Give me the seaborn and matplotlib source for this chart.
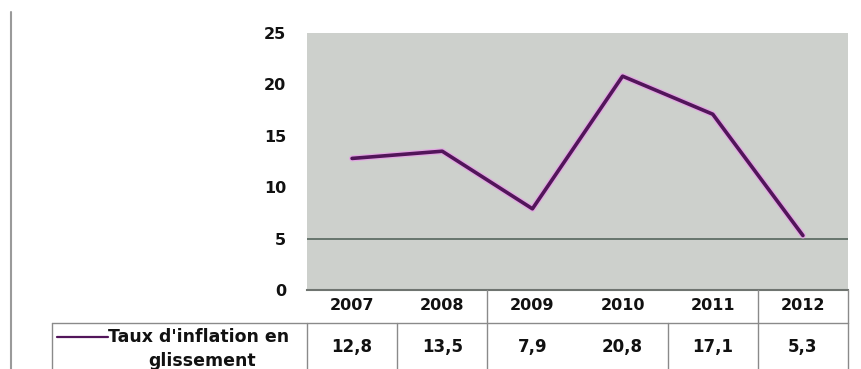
import matplotlib
matplotlib.use("Agg")
import matplotlib.pyplot as plt
import matplotlib.transforms as mtransforms
from matplotlib.lines import Line2D
import seaborn as sns
import pandas as pd

years = ["2007", "2008", "2009", "2010", "2011", "2012"]
inflation = [12.8, 13.5, 7.9, 20.8, 17.1, 5.3]
value_labels = ["12,8", "13,5", "7,9", "20,8", "17,1", "5,3"]
yticks = [0, 5, 10, 15, 20, 25]
series_name = ["Taux d'inflation en", "glissement"]

W, H = 862, 369
sns.set_theme(style="white")
plt.rcParams['font.family'] = ['DejaVu Sans']

fig = plt.figure(figsize=(W / 100, H / 100), dpi=100)
fig.patch.set_facecolor("white")

def fx(x):
    return x / W

def fy(y):
    return 1 - y / H

ax = fig.add_axes([fx(307), fy(290), fx(848) - fx(307), fy(33) - fy(290)])
ax.set_facecolor("#cdd0cc")

df = pd.DataFrame({"idx": list(range(len(years))), "val": inflation})
line_color = "#52155a"
sns.lineplot(data=df, x="idx", y="val", ax=ax, color="#e2a8e2", lw=4.4, zorder=3)
sns.lineplot(data=df, x="idx", y="val", ax=ax, color=line_color, lw=2.6, zorder=4)

ax.set_xlim(-0.5, len(years) - 0.5)
ax.set_ylim(0, 25)
ax.axhline(5, color="#5f6e66", lw=1.3, zorder=2)
ax.set_xticks([])
ax.set_yticks(yticks)
ax.set_yticklabels([str(t) for t in yticks], fontweight="bold", fontsize=11.5, color="#111111")
ax.tick_params(axis="y", length=0, pad=15)
ax.set_xlabel("")
ax.set_ylabel("")
for s in ["top", "right", "left"]:
    ax.spines[s].set_visible(False)
ax.spines["bottom"].set_color("#6f7470")
ax.spines["bottom"].set_linewidth(1.5)

# table
blend = mtransforms.blended_transform_factory(ax.transData, fig.transFigure)
grid_c = "#8a8a8a"
y_top, y_mid, y_bot = 290, 323, 369
fig.add_artist(Line2D([fx(52), fx(848)], [fy(y_mid), fy(y_mid)], color=grid_c, lw=1.0))
for b in [2, 5, 6]:
    fig.add_artist(Line2D([b - 0.5, b - 0.5], [fy(y_top), fy(y_mid)], color=grid_c, lw=1.0, transform=blend))
for b in [0, 1, 2, 4, 5, 6]:
    fig.add_artist(Line2D([b - 0.5, b - 0.5], [fy(y_mid), fy(y_bot)], color=grid_c, lw=1.0, transform=blend))
fig.add_artist(Line2D([fx(52), fx(52)], [fy(y_mid), fy(y_bot)], color=grid_c, lw=1.0))
fig.add_artist(Line2D([fx(11), fx(11)], [fy(12), fy(369)], color="#9a9a9a", lw=1.5))

for i, (yr, vl) in enumerate(zip(years, value_labels)):
    t1 = fig.text(0, 0, yr, transform=blend, fontsize=11.5, fontweight="bold", color="#111111",
                  ha="center", va="center")
    t1.set_position((i, fy(306)))
    t2 = fig.text(0, 0, vl, transform=blend, fontsize=12, fontweight="bold", color="#111111",
                  ha="center", va="center")
    t2.set_position((i, fy(347)))

fig.add_artist(Line2D([fx(57), fx(108)], [fy(337), fy(337)], color=line_color, lw=1.6))
fig.text(fx(108), fy(337), series_name[0], fontsize=12.5, fontweight="bold", color="#111111",
         ha="left", va="center")
fig.text(fx(202), fy(361), series_name[1], fontsize=12.5, fontweight="bold", color="#111111",
         ha="center", va="center")

fig.savefig("out.png", dpi=100)
